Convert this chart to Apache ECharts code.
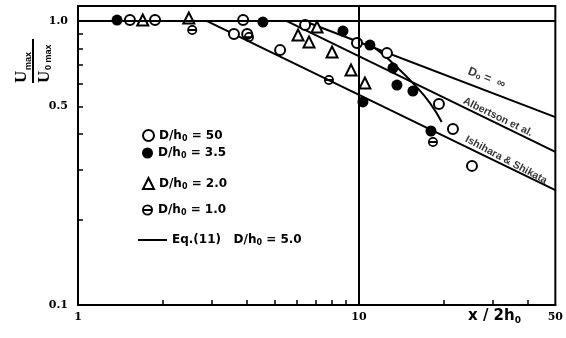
<!DOCTYPE html>
<html><head><meta charset="utf-8">
<script src="https://cdn.jsdelivr.net/npm/echarts@6/dist/echarts.min.js"></script>
<style>html,body{margin:0;padding:0;background:#fff}#c{width:566px;height:338px}</style>
</head><body><div id="c"></div>
<script>
// ---- tick / label values ----
const xTickValues = [2, 3, 4, 5, 6, 7, 8, 9, 20, 30, 40];
const xLabelValues = [1, 10, 50];
const yTickValues = [0.2, 0.3, 0.4, 0.5, 0.6, 0.7, 0.8, 0.9];
const yLabelValues = [0.1, 0.5, 1.0];

// ---- data: D/h0 = 50 (open circles) ----
const s50X = [1.53, 1.88, 3.87, 3.59, 4.00, 5.24, 6.43, 9.84, 12.58, 19.26, 21.60, 25.25];
const s50Y = [1.008, 1.008, 1.008, 0.900, 0.900, 0.790, 0.968, 0.837, 0.771, 0.510, 0.417, 0.309];
// ---- D/h0 = 3.5 (filled circles) ----
const s35X = [1.377, 4.55, 8.77, 10.94, 13.21, 13.65, 15.56, 10.33, 18.04];
const s35Y = [1.008, 0.992, 0.922, 0.823, 0.683, 0.595, 0.567, 0.519, 0.410];
// ---- D/h0 = 2.0 (triangles) ----
const s20X = [1.70, 2.48, 6.07, 7.09, 6.64, 8.02, 9.37, 10.50];
const s20Y = [1.008, 1.025, 0.893, 0.953, 0.844, 0.778, 0.672, 0.605];
// ---- D/h0 = 1.0 (barred circles) ----
const s10X = [2.55, 4.06, 7.82, 18.34];
const s10Y = [0.930, 0.878, 0.620, 0.375];
// ---- Eq.(11) D/h0 = 5.0 curve ----
const eqX = [10.5, 11.4, 13.4, 15.8, 17.9, 19.7];
const eqY = [0.83, 0.803, 0.70, 0.595, 0.514, 0.441];
// ---- reference lines ----
const infX = [6.37, 50];   const infY = [1.0, 0.459];   // D0 = inf
const albX = [5.54, 50];   const albY = [1.0, 0.346];   // Albertson et al.
const ishX = [2.88, 50];   const ishY = [1.0, 0.254];   // Ishihara & Shikata
// ---- line label anchors ----
const lblNames = ['D0', 'Albertson', 'Ishihara'];
const lblX = [28.5, 31.2, 33.4];
const lblY = [0.630, 0.459, 0.324];

const L = Math.log10;
const pts = (xs, ys) => xs.map((x, i) => [L(x), L(ys[i])]);

const n50 = 'D/h0 = 50', n35 = 'D/h0 = 3.5', n20 = 'D/h0 = 2.0', n10 = 'D/h0 = 1.0', nEq = 'Eq.(11)   D/h0 = 5.0';
const barCircle = 'path://M0,5 A5,5 0 1,1 10,5 A5,5 0 1,1 0,5 Z M1.7,5 A3.3,3.3 0 1,0 8.3,5 A3.3,3.3 0 1,0 1.7,5 Z M1.7,4.1 L8.3,4.1 L8.3,5.9 L1.7,5.9 Z';

const legFmt = name => name.split('h0').map(p => '{a|' + p + '}').join('{a|h}{s|0}');
const legRich = {
  a: { fontFamily: 'DejaVu Sans', fontWeight: 'bold', fontSize: 12, color: '#000', lineHeight: 14 },
  s: { fontFamily: 'DejaVu Sans', fontWeight: 'bold', fontSize: 8, color: '#000', verticalAlign: 'bottom', lineHeight: 10 }
};
function legend(item, left, top, w, h) {
  return { data: [item], left, top, padding: 0, itemWidth: w, itemHeight: h, orient: 'vertical',
    formatter: legFmt, textStyle: { rich: legRich }, selectedMode: false };
}

const chart = echarts.init(document.getElementById('c'), null, { renderer: 'canvas' });
const axisFont = { color: '#000', fontFamily: 'DejaVu Serif', fontWeight: 'bold', fontSize: 11 };

const option = {
  animation: false,
  backgroundColor: '#fff',
  grid: { left: 78, right: 9, top: 6, bottom: 33, show: true, borderColor: '#000', borderWidth: 2 },
  xAxis: {
    type: 'value', min: 0, max: L(50),
    axisLine: { show: true, onZero: false, lineStyle: { color: '#000', width: 2 } },
    axisTick: { show: true, inside: true, length: 5, customValues: xTickValues.map(L), lineStyle: { color: '#000', width: 1.5 } },
    axisLabel: Object.assign({ show: true, margin: 7, customValues: xLabelValues.map(L),
      formatter: v => String(Math.round(Math.pow(10, v))) }, axisFont),
    splitLine: { show: false }
  },
  yAxis: {
    type: 'value', min: -1, max: 0.053,
    axisLine: { show: true, onZero: false, lineStyle: { color: '#000', width: 2 } },
    axisTick: { show: true, inside: true, length: 5, customValues: yTickValues.map(L), lineStyle: { color: '#000', width: 1.5 } },
    axisLabel: Object.assign({ show: true, margin: 10, customValues: yLabelValues.map(L),
      formatter: v => Math.pow(10, v).toFixed(1) }, axisFont),
    splitLine: { show: false }
  },
  legend: [
    legend(n50, 142, 129, 11, 11),
    legend(n35, 142, 147, 11, 11),
    legend(n20, 142, 177, 11, 11),
    legend(n10, 142, 204, 11, 11),
    legend({ name: nEq, icon: 'rect', itemStyle: { color: '#000' } }, 138, 234, 29, 2)
  ],
  series: [
    { type: 'line', name: 'refs', data: [], silent: true,
      markLine: { symbol: 'none', silent: true, label: { show: false },
        lineStyle: { color: '#000', width: 2, type: 'solid' },
        data: [{ xAxis: L(10) }, { yAxis: L(1) }] } },
    { type: 'line', name: 'inf', data: pts(infX, infY), symbol: 'none', lineStyle: { color: '#000', width: 2 }, z: 2 },
    { type: 'line', name: 'alb', data: pts(albX, albY), symbol: 'none', lineStyle: { color: '#000', width: 2 }, z: 2 },
    { type: 'line', name: 'ish', data: pts(ishX, ishY), symbol: 'none', lineStyle: { color: '#000', width: 2 }, z: 2 },
    { type: 'line', name: nEq, data: pts(eqX, eqY), smooth: true, symbol: 'none', showSymbol: false,
      lineStyle: { color: '#000', width: 2 }, itemStyle: { color: '#000' }, z: 2 },
    { type: 'scatter', name: n50, data: pts(s50X, s50Y), symbol: 'circle', symbolSize: 10,
      itemStyle: { color: '#fff', borderColor: '#000', borderWidth: 2, opacity: 1 }, z: 4 },
    { type: 'scatter', name: n35, data: pts(s35X, s35Y), symbol: 'circle', symbolSize: 11,
      itemStyle: { color: '#000', opacity: 1 }, z: 4 },
    { type: 'scatter', name: n20, data: pts(s20X, s20Y), symbol: 'triangle', symbolSize: 11,
      itemStyle: { color: '#fff', borderColor: '#000', borderWidth: 2, opacity: 1 }, z: 4 },
    { type: 'scatter', name: n10, data: pts(s10X, s10Y), symbol: barCircle, symbolSize: 10,
      itemStyle: { color: '#000', opacity: 1 }, z: 4 },
    { type: 'scatter', name: 'lineLabels', silent: true, symbolSize: 0, z: 5,
      label: { show: true, position: 'inside', color: '#000',
        rich: {
          a: { fontFamily: 'Liberation Sans', fontWeight: 'bold', fontSize: 10.5, color: '#000' },
          b: { fontFamily: 'Liberation Sans', fontWeight: 'bold', fontSize: 12, color: '#000' },
          s: { fontFamily: 'Liberation Sans', fontWeight: 'bold', fontSize: 8, color: '#000', verticalAlign: 'bottom' }
        } },
      data: [
        { name: lblNames[0], value: [L(lblX[0]), L(lblY[0])], label: { rotate: -21, formatter: '{b|D}{s|o}{b| =  ∞}' } },
        { name: lblNames[1], value: [L(lblX[1]), L(lblY[1])], label: { rotate: -26, formatter: '{a|Albertson et al.}' } },
        { name: lblNames[2], value: [L(lblX[2]), L(lblY[2])], label: { rotate: -28, formatter: '{a|Ishihara & Shikata}' } }
      ] }
  ],
  graphic: [
    { type: 'group', x: 33, y: 61, rotation: Math.PI / 2, silent: true,
      children: [
        { type: 'rect', shape: { x: -22, y: -1, width: 44, height: 2 }, style: { fill: '#000' } },
        { type: 'text', x: -22, y: -3, style: { text: 'U', font: 'bold 17px "Liberation Serif"', fill: '#000', verticalAlign: 'bottom', align: 'left' } },
        { type: 'text', x: -9, y: 0, style: { text: 'max', font: 'bold 9px "Liberation Sans"', fill: '#000', verticalAlign: 'bottom', align: 'left' } },
        { type: 'text', x: -22, y: 3, style: { text: 'U', font: 'bold 17px "Liberation Serif"', fill: '#000', verticalAlign: 'top', align: 'left' } },
        { type: 'text', x: -9, y: 11, style: { text: '0 max', font: 'bold 9px "Liberation Sans"', fill: '#000', verticalAlign: 'top', align: 'left' } }
      ] },
    { type: 'text', left: 468, top: 309, silent: true,
      style: { text: '{a|x / 2h}{s|0}', rich: {
        a: { fontFamily: 'DejaVu Sans', fontWeight: 'bold', fontSize: 15, color: '#000', lineHeight: 18 },
        s: { fontFamily: 'DejaVu Sans', fontWeight: 'bold', fontSize: 9, color: '#000', verticalAlign: 'bottom', lineHeight: 11 } } } }
  ]
};
chart.setOption(option);
</script></body></html>
